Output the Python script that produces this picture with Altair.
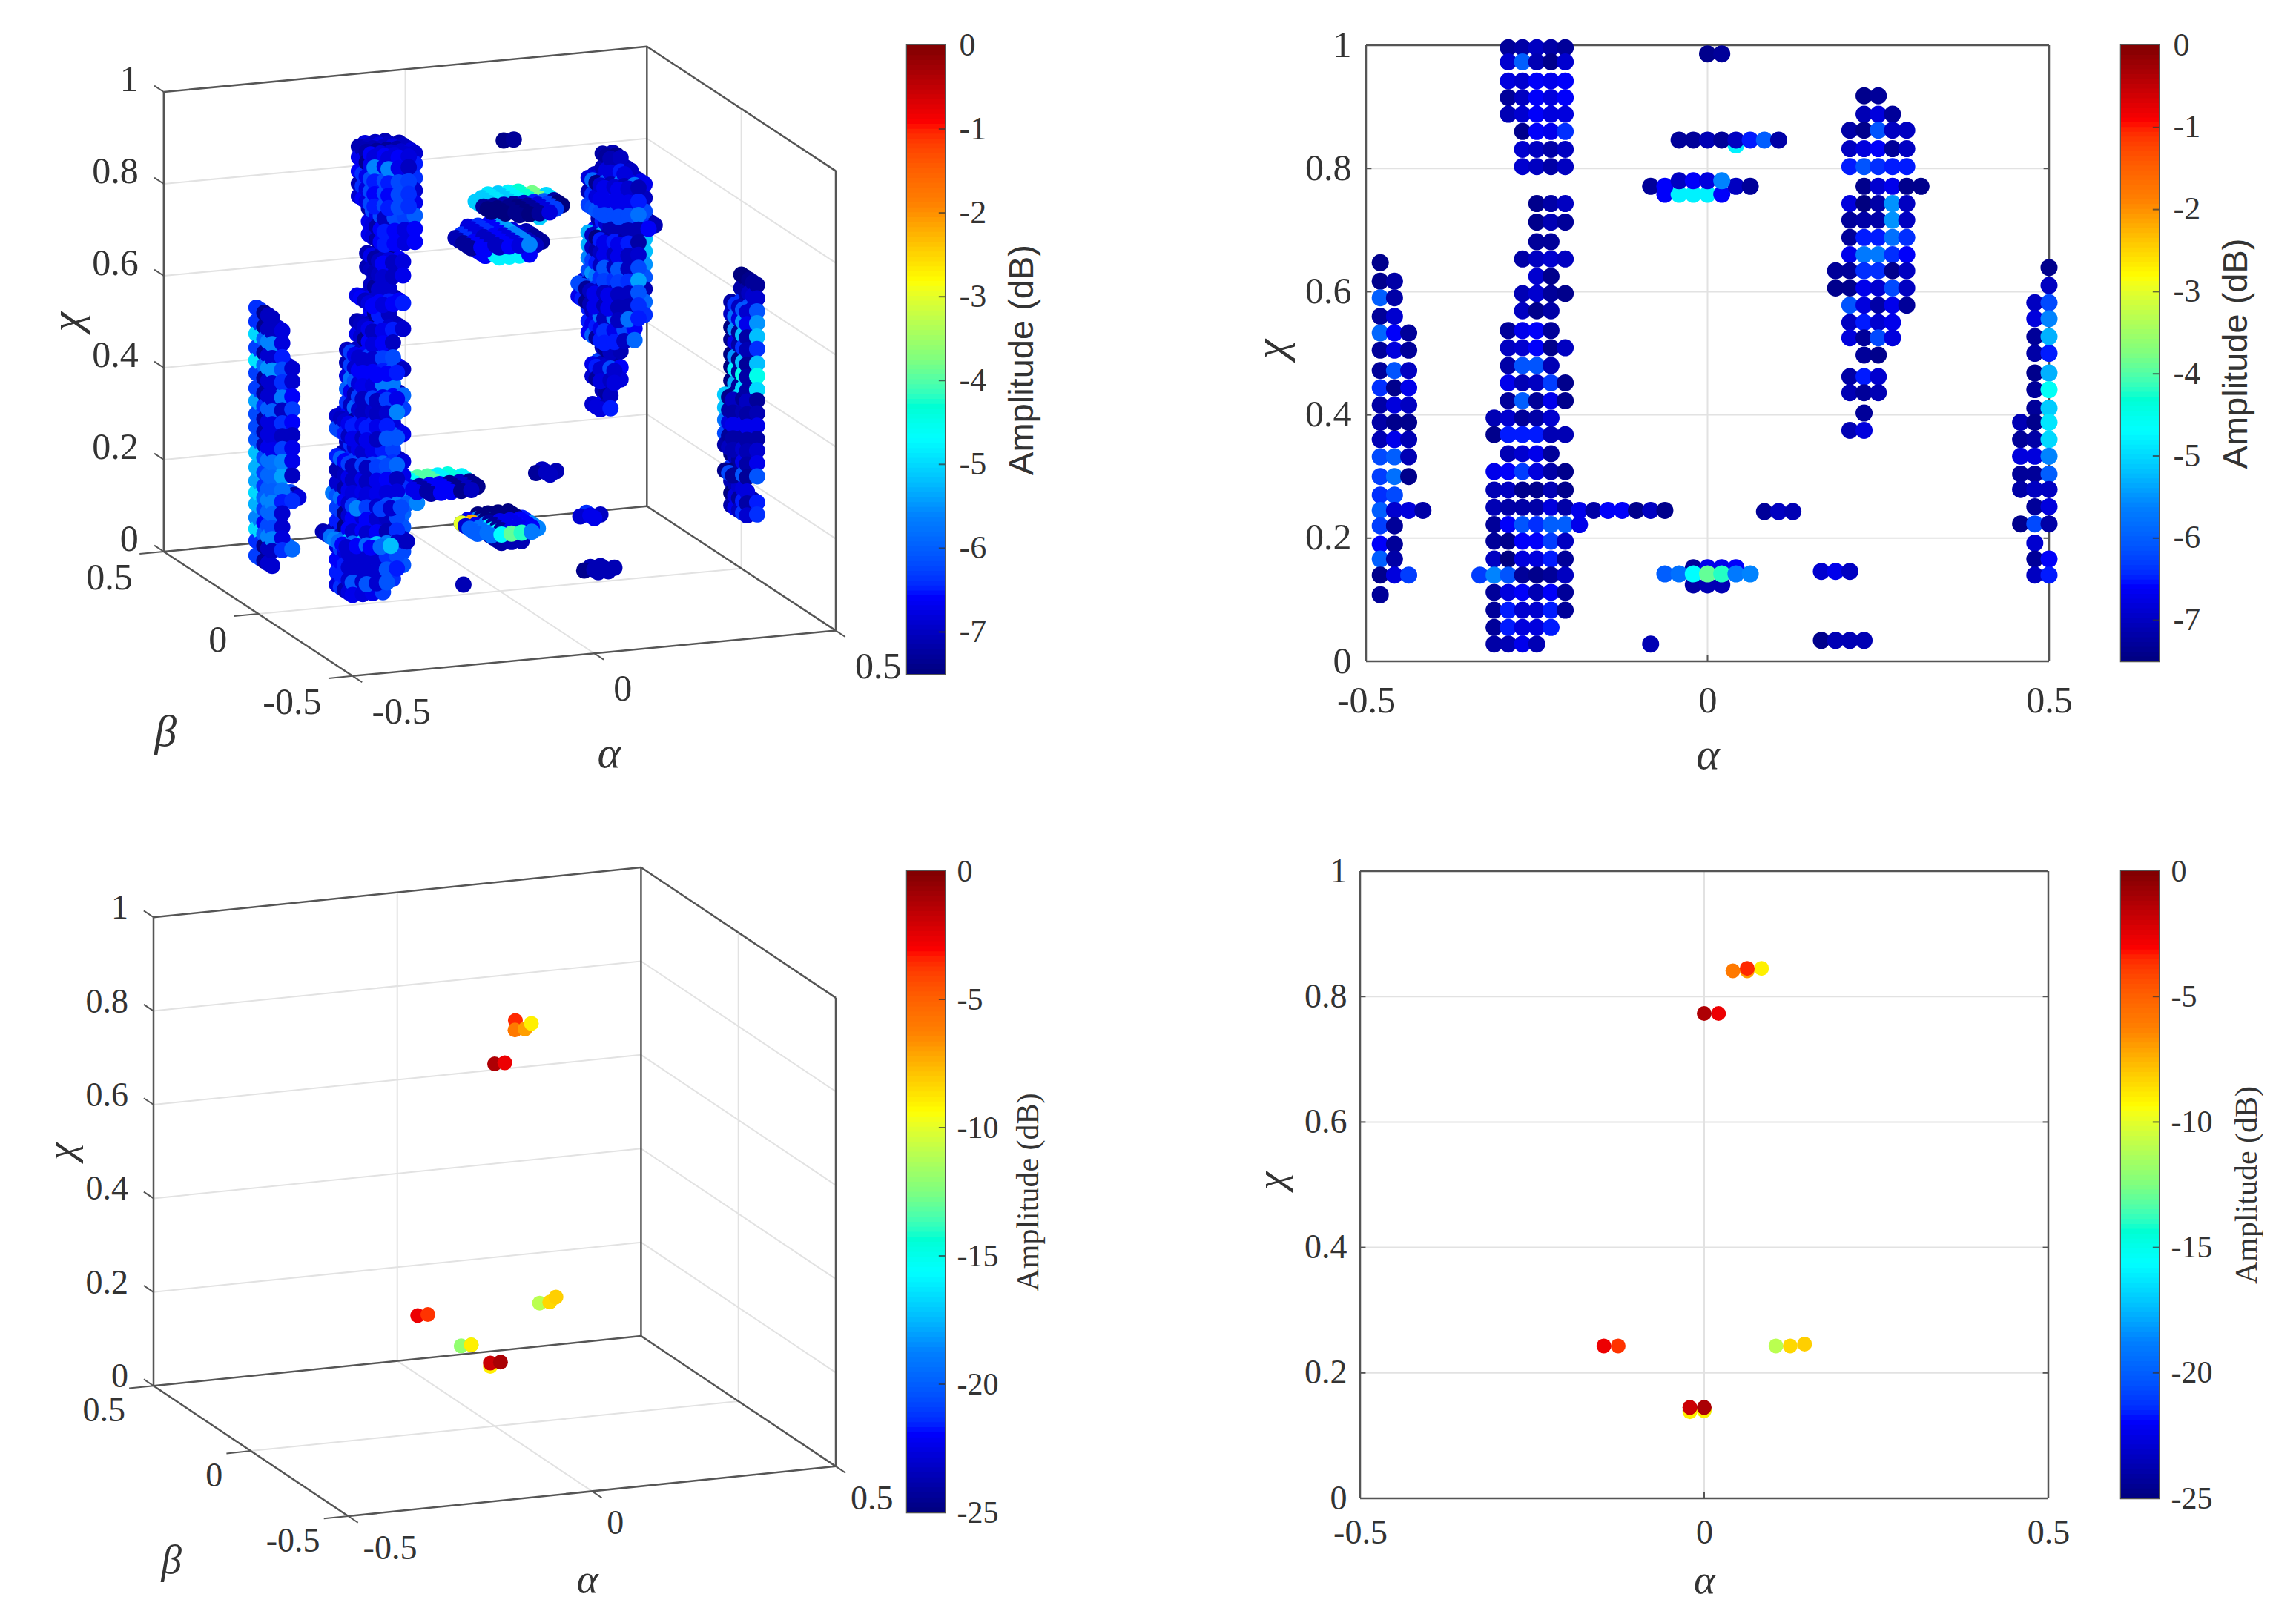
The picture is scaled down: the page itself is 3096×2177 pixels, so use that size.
import math
import numpy as np
import pandas as pd
import altair as alt

JET = ["#00007F", "#0000FF", "#007FFF", "#00FFFF", "#7FFF7F", "#FFFF00", "#FF7F00", "#FF0000", "#7F0000"]
SERIF = "Liberation Serif"
SANS = "Liberation Sans"
TXT = "#333333"
EDGE = "#555555"
GRID = "#E2E2E2"

# ---- panel (a/b) data: each row is (chi, {alpha index on the 1/48 lattice: amplitude dB})
main_upper = [
    (.996, {-14: -7.3, -13: -7.2, -12: -7.0, -11: -7.2, -10: -7.3}),
    (.973, {-14: -6.9, -13: -6.0, -12: -7.1, -11: -7.4, -10: -6.9}),
    (.942, {-14: -6.8, -13: -6.9, -12: -6.6, -11: -6.7, -10: -6.6}),
    (.915, {-14: -7.3, -13: -7.0, -12: -6.6, -11: -6.8, -10: -6.6}),
    (.888, {-14: -7.1, -13: -6.9, -12: -6.6, -11: -6.8, -10: -6.8}),
    (.860, {-13: -7.4, -12: -6.6, -11: -6.7, -10: -6.4}),
    (.831, {-13: -6.9, -12: -7.0, -11: -7.2, -10: -7.0}),
    (.803, {-13: -6.9, -12: -7.0, -11: -7.2, -10: -7.0}),
]
main_lower = [
    (.743, {-12: -7.4, -11: -7.2, -10: -7.0}),
    (.713, {-12: -7.4, -11: -7.1, -10: -7.3}),
    (.681, {-12: -7.3, -11: -7.3}),
    (.653, {-13: -7.2, -12: -7.0, -11: -6.9, -10: -7.0}),
    (.625, {-12: -6.9, -11: -7.4}),
    (.597, {-13: -7.1, -12: -6.9, -11: -7.3, -10: -7.4}),
    (.569, {-13: -7.0, -12: -7.4, -11: -7.2}),
    (.537, {-14: -7.3, -13: -6.7, -12: -6.6, -11: -7.3}),
    (.509, {-14: -7.0, -13: -6.9, -12: -6.6, -11: -7.4, -10: -7.0}),
    (.480, {-14: -7.2, -13: -6.1, -12: -6.1, -11: -7.1}),
    (.452, {-14: -6.7, -13: -7.1, -12: -7.0, -11: -6.3, -10: -7.4}),
    (.423, {-14: -7.3, -13: -6.0, -12: -7.3, -11: -6.7, -10: -7.4}),
    (.395, {-15: -7.1, -14: -6.9, -13: -7.3, -12: -7.2, -11: -6.9}),
    (.368, {-15: -7.4, -14: -6.5, -13: -6.5, -12: -6.5, -11: -7.1, -10: -7.1}),
    (.337, {-14: -7.1, -13: -6.9, -12: -6.7, -11: -7.3}),
    (.308, {-15: -6.7, -14: -6.6, -13: -6.3, -12: -6.8, -11: -7.2, -10: -7.4}),
    (.278, {-15: -7.1, -14: -7.0, -13: -7.4, -12: -7.4, -11: -7.1, -10: -7.4}),
    (.250, {-15: -7.1, -14: -7.2, -13: -7.2, -12: -7.2, -11: -6.8, -10: -7.2}),
    (.222, {-15: -7.3, -14: -6.6, -13: -6.1, -12: -6.4, -11: -6.0, -10: -6.0, -9: -6.7}),
    (.195, {-15: -7.3, -14: -7.4, -13: -6.6, -12: -6.6, -11: -6.3, -10: -7.0}),
    (.166, {-15: -7.0, -14: -7.5, -13: -6.8, -12: -6.8, -11: -6.5, -10: -7.3}),
    (.140, {-16: -6.3, -15: -5.6, -14: -6.1, -13: -7.3, -12: -7.4, -11: -7.3, -10: -7.0}),
    (.112, {-15: -7.3, -14: -6.8, -13: -6.6, -12: -7.1, -11: -6.6, -10: -7.3}),
    (.083, {-15: -7.3, -14: -6.5, -13: -6.9, -12: -6.9, -11: -6.5, -10: -7.3}),
    (.055, {-15: -7.3, -14: -6.5, -13: -6.8, -12: -6.8, -11: -6.5}),
    (.028, {-15: -7.2, -14: -7.1, -13: -6.7, -12: -7.1}),
]
left_column = [
    (.647, {-23: -7.4}),
    (.617, {-23: -7.4, -22: -7.2}),
    (.590, {-23: -6.0, -22: -7.2}),
    (.560, {-23: -7.3, -22: -6.9}),
    (.533, {-23: -5.9, -22: -6.6, -21: -7.3}),
    (.505, {-23: -7.3, -22: -6.8, -21: -7.3}),
    (.472, {-23: -7.3, -22: -6.1, -21: -7.0}),
    (.444, {-23: -6.4, -22: -7.4, -21: -6.7}),
    (.416, {-23: -7.2, -22: -6.8, -21: -7.0}),
    (.388, {-23: -7.2, -22: -7.4, -21: -7.4}),
    (.360, {-23: -7.1, -22: -6.7, -21: -7.1}),
    (.332, {-23: -6.2, -22: -6.0, -21: -7.1}),
    (.300, {-23: -6.3, -22: -5.8, -21: -7.4}),
    (.270, {-23: -6.4, -22: -6.2}),
    (.245, {-23: -6.0, -22: -6.9, -21: -6.8, -20: -7.2}),
    (.220, {-23: -6.3, -22: -7.3}),
    (.190, {-23: -6.6, -22: -7.3}),
    (.166, {-23: -6.0, -22: -7.2}),
    (.140, {-23: -7.4, -22: -6.8, -21: -6.3}),
    (.108, {-23: -7.3}),
]
right_middle = [
    (.918, {11: -7.4, 12: -7.3}),
    (.888, {11: -7.1, 12: -6.8, 13: -7.3}),
    (.862, {10: -7.2, 11: -7.4, 12: -6.1, 13: -7.0, 14: -7.0}),
    (.832, {10: -7.0, 11: -6.8, 12: -6.6, 13: -7.3, 14: -7.0}),
    (.803, {10: -6.5, 11: -6.1, 12: -6.4, 13: -6.5, 14: -6.5}),
    (.771, {11: -7.4, 12: -6.9, 13: -6.7, 14: -7.4, 15: -7.4}),
    (.743, {10: -6.8, 11: -7.5, 12: -7.2, 13: -5.5, 14: -7.0}),
    (.716, {10: -7.3, 11: -7.2, 12: -7.2, 13: -5.5, 14: -7.0}),
    (.688, {10: -7.3, 11: -6.5, 12: -6.5, 13: -5.8, 14: -6.4}),
    (.660, {10: -6.7, 11: -5.7, 12: -5.7, 13: -6.4, 14: -6.6}),
    (.634, {9: -7.3, 10: -7.3, 11: -6.4, 12: -6.4, 13: -7.4, 14: -7.0}),
    (.606, {9: -7.4, 10: -7.4, 11: -6.7, 12: -6.9, 13: -6.2, 14: -7.0}),
    (.578, {10: -6.1, 11: -6.8, 12: -7.2, 13: -6.7, 14: -7.3}),
    (.550, {10: -7.0, 11: -6.5, 12: -6.9, 13: -6.7}),
    (.525, {10: -6.8, 11: -7.3, 12: -6.2, 13: -6.8}),
    (.497, {11: -7.3, 12: -7.4}),
    (.462, {10: -7.2, 11: -6.5, 12: -6.9}),
    (.436, {10: -7.1, 11: -7.3, 12: -7.1}),
    (.403, {11: -7.3}),
    (.375, {10: -7.1, 11: -6.8}),
]
right_column = [
    (.639, {24: -7.4}),
    (.610, {24: -7.0}),
    (.582, {23: -7.0, 24: -6.2}),
    (.556, {23: -6.8, 24: -5.6}),
    (.527, {23: -7.3, 24: -5.3}),
    (.500, {23: -7.2, 24: -6.5}),
    (.468, {23: -7.4, 24: -5.3}),
    (.441, {23: -7.3, 24: -4.6}),
    (.411, {23: -7.3, 24: -5.1}),
    (.388, {22: -7.1, 23: -7.4, 24: -4.9}),
    (.360, {22: -7.3, 23: -7.2, 24: -5.0}),
    (.333, {22: -6.8, 23: -6.8, 24: -5.6}),
    (.304, {22: -7.3, 23: -7.3, 24: -6.0}),
    (.279, {22: -7.2, 23: -7.0, 24: -7.0}),
    (.251, {23: -7.3, 24: -6.8}),
    (.223, {22: -7.4, 23: -6.2, 24: -7.2}),
    (.192, {23: -6.9}),
    (.166, {23: -7.3, 24: -6.6}),
    (.140, {23: -7.0, 24: -6.5}),
]
disc_846 = [
    (.838, {2: -4.8}),
    (.846, {-2: -7.3, -1: -7.3, 0: -7.1, 1: -7.3, 2: -7.0, 3: -6.5, 4: -6.0, 5: -7.2}),
]
disc_771 = [
    (.758, {-3: -6.6, -2: -4.8, -1: -4.8, 0: -4.8, 1: -6.6}),
    (.771, {-4: -7.3, -3: -6.6, 2: -7.0, 3: -7.3}),
    (.780, {-2: -7.0, -1: -6.6, 0: -6.8, 1: -5.6}),
]
disc_245 = [
    (.245, {-9: -6.7, -8: -7.2, -7: -6.6, -6: -6.6, -5: -7.4, -4: -7.0, -3: -7.4}),
]
disc_142 = [
    (.124, {-1: -7.2, 0: -7.1, 1: -7.1}),
    (.152, {-1: -7.3, 0: -6.7, 1: -6.7, 2: -6.6}),
    (.142, {-3: -6.0, -2: -5.8, -1: -4.7, 0: -3.9, 1: -4.2, 2: -5.7, 3: -5.6}),
]
small_top = [(.986, {0: -7.4, 1: -7.3})]
small_a = [(.243, {4: -7.3, 5: -7.0, 6: -7.1})]
small_b = [(.146, {8: -6.9, 9: -6.7, 10: -7.0})]
small_c = [(.034, {8: -7.4, 9: -7.1, 10: -7.1, 11: -7.1})]
small_d = [(.028, {-4: -7.1})]

# 3D view: each cluster is a column or disc around a beta centre (in 1/48 units).
# Fields: rows, beta centre, fixed (alpha centre, radius) or None for per-row, extra radius,
# dB change behind the centre, dB change in front, mix values along the row.
clusters = [
    (main_upper, -2.0, None, .8, .2, .4, True),
    (main_lower, 1.0, None, .8, .3, .4, True),
    (left_column, 1.0, (-22.0, 2.6), 0, 1.0, .4, False),
    (right_middle, 1.0, None, .6, .2, .3, True),
    (right_column, -2.0, (23.5, 2.4), 0, -.2, .1, True),
    (disc_846, -1.0, (1.5, 4.6), 0, 2.2, -.3, False),
    (disc_771, -1.0, (-.5, 4.6), 0, .2, 0, False),
    (disc_245, 0.0, (-6.0, 3.8), 0, 2.6, 0, False),
    (disc_142, 0.0, (0.0, 3.8), 0, -.9, 0, False),
    (small_top, -1.0, None, -.6, 0, 0, False),
    (small_a, 1.0, None, -.4, 0, 0, False),
    (small_b, 0.0, None, -.2, .3, 0, False),
    (small_c, -1.0, None, -.6, 0, 0, False),
    (small_d, -1.0, None, -.6, 0, 0, False),
]
# bright back-left spot on the lowest disc, seen only in the 3D view: (alpha index, beta index, chi, amp)
spots_3d = [(-2, 2, .142, -2.2), (-3, 2, .142, -3.0)]

# ---- panel (c/d) data
sparse_alpha = [.0625, .0417, .0625, .0833, 0.0, .0208, -.1458, -.125, .1042, .125, .1458, -.0208, 0.0, .0, -.0208, -.0208, 0.0]
sparse_beta = [.05, 0, 0, .02, 0, 0, .03, .03, .03, .03, .05, .12, .12, .12, -.03, -.03, -.03]
sparse_chi = [.845, .841, .841, .845, .773, .773, .243, .243, .243, .243, .246, .14, .14, .14, .138, .145, .145]
sparse_amp = [-3.5, -6.0, -7.0, -9.0, -1.2, -2.7, -2.7, -3.7, -11.0, -8.4, -8.2, -12.0, -12.0, -9.0, -9.0, -1.9, -1.1]

bar1_ticks = [0, -1, -2, -3, -4, -5, -6, -7]
bar2_ticks = [0, -5, -10, -15, -20, -25]
chi_ticks = [0, .2, .4, .6, .8, 1]


def dense_points():
    rows = []
    for c in clusters:
        for chi, cells in c[0]:
            for k, amp in cells.items():
                rows.append({"alpha": k / 48, "chi": chi, "amp": amp})
    return pd.DataFrame(rows)


def dense_points_3d():
    rows = []
    for group, jc, fixed, extra, back, front, mix in clusters:
        for chi, cells in group:
            keys = sorted(cells)
            if fixed:
                kc, R = fixed
            else:
                kc, R = (keys[0] + keys[-1]) / 2, (keys[-1] - keys[0]) / 2 + .6 + extra
            R = max(R, .1)
            for k in keys:
                for j in range(math.floor(jc - R), math.ceil(jc + R) + 1):
                    if (k - kc) ** 2 + (j - jc) ** 2 > R * R + .01:
                        continue
                    src = cells[keys[(keys.index(k) + j) % len(keys)]] if mix else cells[k]
                    shift = back if j > jc else (front if j < jc else 0)
                    rows.append({"alpha": k / 48, "beta": j / 48, "chi": chi,
                                 "amp": float(np.clip(src + shift, -7.5, 0))})
    for k, j, chi, amp in spots_3d:
        rows.append({"alpha": k / 48, "beta": j / 48, "chi": chi, "amp": amp})
    return pd.DataFrame(rows).sort_values(["beta"], ascending=[False], kind="stable")


def color_enc(lo):
    dom = [float(v) for v in np.linspace(lo, 0, 9)]
    return alt.Color("amp:Q", scale=alt.Scale(domain=dom, range=JET), legend=None)


def panel_3d(points, lo, coef, xdom, ydom, w, h, fs, size, offs):
    ox, oy, ka, kb, kc, kav, kbv = coef

    def pu(a, b):
        return ox + (a + .5) * ka + (.5 - b) * kb

    def pv(a, b, c):
        return oy - c * kc - (a + .5) * kav + (.5 - b) * kbv

    sx = alt.Scale(domain=xdom, nice=False, zero=False)
    sy = alt.Scale(domain=ydom, nice=False, zero=False)
    X = lambda f: alt.X(f, type="quantitative", scale=sx, axis=None)
    Y = lambda f: alt.Y(f, type="quantitative", scale=sy, axis=None)

    def segs(lst):
        return pd.DataFrame([{"x": pu(p[0], p[1]), "y": pv(*p), "x2": pu(q[0], q[1]), "y2": pv(*q)} for p, q in lst])

    grid_l = []
    for c in chi_ticks[1:-1]:
        grid_l.append(((-.5, .5, c), (.5, .5, c)))
        grid_l.append(((.5, .5, c), (.5, -.5, c)))
    grid_l += [((0, .5, 0), (0, .5, 1)), ((.5, 0, 0), (.5, 0, 1)),
               ((0, .5, 0), (0, -.5, 0)), ((-.5, 0, 0), (.5, 0, 0))]
    edges = [((-.5, .5, 0), (-.5, .5, 1)), ((-.5, .5, 1), (.5, .5, 1)), ((.5, .5, 0), (.5, .5, 1)),
             ((.5, .5, 1), (.5, -.5, 1)), ((.5, -.5, 0), (.5, -.5, 1)), ((-.5, .5, 0), (.5, .5, 0)),
             ((-.5, .5, 0), (-.5, -.5, 0)), ((-.5, -.5, 0), (.5, -.5, 0)), ((.5, .5, 0), (.5, -.5, 0))]
    ticks = [((-.5, .5, c), (-.5, .55, c)) for c in chi_ticks]
    ticks += [((-.5, b, 0), (-.55, b, 0)) for b in [.5, 0, -.5]]
    ticks += [((a, -.5, 0), (a, -.55, 0)) for a in [-.5, 0, .5]]

    def rule(lst, color, width):
        return alt.Chart(segs(lst)).mark_rule(color=color, strokeWidth=width).encode(
            x=X("x"), y=Y("y"), x2="x2", y2="y2")

    def text(labels, anchors, align, dx, dy, font=SERIF, size_=fs, style="normal", angle=0):
        df = pd.DataFrame({"t": labels, "x": [pu(a[0], a[1]) for a in anchors], "y": [pv(*a) for a in anchors]})
        return alt.Chart(df).mark_text(font=font, fontSize=size_, fontStyle=style, align=align, baseline="middle",
                                       dx=dx, dy=dy, color=TXT, angle=angle).encode(
            x=X("x"), y=Y("y"), text="t:N")

    pts = points.copy()
    pts["u"] = pu(pts["alpha"], pts["beta"])
    pts["v"] = pv(pts["alpha"], pts["beta"], pts["chi"])
    pts["ord"] = np.arange(len(pts))
    dots = alt.Chart(pts).mark_circle(size=size, opacity=1, stroke=None).encode(
        x=X("u"), y=Y("v"), color=color_enc(lo), order=alt.Order("ord:Q"))

    o = offs
    gfs = fs * 1.2
    layers = [
        rule(grid_l, GRID, 2),
        rule(edges, EDGE, 2.5),
        rule(ticks, EDGE, 2),
        dots,
        text([("%g" % c) for c in chi_ticks], [(-.5, .5, c) for c in chi_ticks], "right", o["z"][0], o["z"][1]),
        text(["0.5", "0", "-0.5"], [(-.5, b, 0) for b in [.5, 0, -.5]], "right", o["b"][0], o["b"][1]),
        text(["-0.5", "0", "0.5"], [(a, -.5, 0) for a in [-.5, 0, .5]], "left", o["a"][0], o["a"][1]),
        text(["\u03b1"], [(0, -.5, 0)], "center", o["at"][0], o["at"][1], style="italic", size_=gfs),
        text(["\u03b2"], [(-.5, 0, 0)], "center", o["bt"][0], o["bt"][1], style="italic", size_=gfs),
        # the offsets of a rotated text turn with it: dy is the screen's horizontal here
        text(["\u03c7"], [(-.5, .5, .5)], "center", o["zt"][0], o["zt"][1], style="italic", angle=270, size_=gfs),
    ]
    return alt.layer(*layers).properties(width=w, height=h, view=alt.ViewBackground(stroke=None))


def panel_2d(points, lo, cell_w, shift, h, fs, size, xt, yt, lp_x, lp_y):
    sx = alt.Scale(domain=[-.5, .5], nice=False, zero=False, range=[shift, cell_w])
    sy = alt.Scale(domain=[0, 1], nice=False, zero=False)
    mid = shift + (cell_w - shift) / 2
    gfs = fs * 1.2
    x_axis = alt.Axis(values=[-.5, 0, .5], grid=False, domain=False, ticks=False, labelFont=SERIF, labelFontSize=fs,
                      labelColor=TXT, labelPadding=lp_x, labelFlush=False, labelOverlap=False,
                      labelExpr="datum.value==0?'0':(datum.value>0?'0.5':'-0.5')",
                      title="\u03b1", titleFont=SERIF, titleFontSize=gfs, titleFontStyle="italic", titleFontWeight="normal",
                      titleColor=TXT, titleX=mid, titleY=xt, titleBaseline="middle", titleAlign="center")
    y_axis = alt.Axis(values=chi_ticks, grid=False, domain=False, ticks=False, labelFont=SERIF, labelFontSize=fs,
                      labelColor=TXT, labelPadding=lp_y, labelFlush=False, labelOverlap=False, offset=-shift,
                      labelExpr="format(datum.value,'.1f')=='0.0'?'0':(datum.value==1?'1':format(datum.value,'.1f'))",
                      title="\u03c7", titleFont=SERIF, titleFontSize=gfs, titleFontStyle="italic", titleFontWeight="normal",
                      titleColor=TXT, titleX=yt, titleY=h / 2 - 6, titleBaseline="middle", titleAlign="center", titleAngle=270)
    ex = alt.X("x:Q", scale=sx, axis=x_axis)
    ey = alt.Y("y:Q", scale=sy, axis=y_axis)

    def rules(df, color, width):
        enc = {"x": ex, "y": ey}
        if "x2" in df:
            enc["x2"] = "x2"
        if "y2" in df:
            enc["y2"] = "y2"
        return alt.Chart(df).mark_rule(color=color, strokeWidth=width).encode(**enc)

    inner = chi_ticks[1:-1]
    hgrid = rules(pd.DataFrame({"y": inner, "x": -.5, "x2": .5}), GRID, 2)
    vgrid = rules(pd.DataFrame({"x": [0], "y": [0], "y2": [1]}), GRID, 2)
    tick_l = rules(pd.DataFrame({"y": inner, "x": -.5, "x2": -.492}), EDGE, 2)
    tick_r = rules(pd.DataFrame({"y": inner, "x": .492, "x2": .5}), EDGE, 2)
    tick_b = rules(pd.DataFrame({"x": [0], "y": [0], "y2": [.01]}), EDGE, 2)
    fr_h = rules(pd.DataFrame({"y": [0, 1], "x": -.5, "x2": .5}), EDGE, 2.5)
    fr_v = rules(pd.DataFrame({"x": [-.5, .5], "y": 0, "y2": 1}), EDGE, 2.5)
    dots = alt.Chart(points).mark_circle(size=size, opacity=1, stroke=None).encode(
        x=alt.X("alpha:Q", scale=sx, axis=x_axis),
        y=alt.Y("chi:Q", scale=sy, axis=y_axis),
        color=color_enc(lo))
    return alt.layer(hgrid, vgrid, fr_h, fr_v, tick_l, tick_r, tick_b, dots).properties(
        width=cell_w, height=h, view=alt.ViewBackground(stroke=None))


def colorbar(lo, ticks, w, h, fs, lab_pad, title_x, title_font, title_size):
    edges = np.linspace(lo, 0, 129)
    step = edges[1] - edges[0]
    cells = pd.DataFrame({"y": edges[:-1], "y2": np.minimum(edges[1:] + step * .7, 0),
                          "amp": (edges[:-1] + edges[1:]) / 2})
    sy = alt.Scale(domain=[lo, 0], nice=False, zero=False)
    sx = alt.Scale(domain=[0, 1], nice=False, zero=False)
    axis = alt.Axis(orient="right", values=ticks, grid=False, domain=False, ticks=False, labelFont=SERIF,
                    labelFontSize=fs, labelColor=TXT, labelPadding=lab_pad, labelFlush=False, labelOverlap=False,
                    labelExpr="datum.value==0?'0':'-'+abs(datum.value)",
                    title="Amplitude (dB)", titleFont=title_font, titleFontSize=title_size, titleFontWeight="normal",
                    titleColor=TXT, titleX=title_x, titleY=h / 2, titleAngle=270, titleAlign="center", titleBaseline="middle")
    bar = alt.Chart(cells).mark_rect(stroke=None).encode(
        x=alt.value(0), x2=alt.value(w),
        y=alt.Y("y:Q", scale=sy, axis=axis), y2="y2:Q", color=color_enc(lo))
    tk = alt.Chart(pd.DataFrame({"y": [t for t in ticks if lo < t < 0], "x": .84, "x2": 1.0})).mark_rule(
        color="#333333", strokeWidth=2, opacity=.7).encode(
        x=alt.X("x:Q", scale=sx, axis=None), x2="x2", y=alt.Y("y:Q", scale=sy, axis=axis))
    return alt.layer(bar, tk).properties(width=w, height=h, view=alt.ViewBackground(stroke=EDGE, strokeWidth=2.5))


def spacer(w):
    return alt.Chart(pd.DataFrame({"x": [0]})).mark_point(opacity=0).encode(
        x=alt.X("x:Q", axis=None), y=alt.Y("x:Q", axis=None)).properties(
        width=w, height=10, view=alt.ViewBackground(stroke=None))


dense2d = dense_points()
dense3d = dense_points_3d()
sparse = pd.DataFrame({"alpha": sparse_alpha, "beta": sparse_beta, "chi": sparse_chi, "amp": sparse_amp})

p1 = panel_3d(dense3d, -7.5, (112, 376.3, 330, 129, 314, 31, 85), [105, 571], [462.4, 30.4], 920, 853, 50, 480,
              {"z": (-34, -16), "b": (-42, 36), "a": (26, 49), "at": (20, 136), "bt": (-125, 160), "zt": (0, -130)})
b1 = colorbar(-7.5, bar1_ticks, 51, 848, 44, 19, 104, SANS, 47)
p2 = panel_2d(dense2d, -7.5, 929, 8, 831, 50, 529, 126, -128, 28, 20)
b2 = colorbar(-7.5, bar1_ticks, 51, 831, 44, 19, 104, SANS, 47)

p3 = panel_3d(sparse, -25, (105, 946, 333, 133, 320, 34, 89), [105, 571], [1035, 594.5], 920, 870, 46, 400,
              {"z": (-34, -12), "b": (-38, 34), "a": (20, 44), "at": (-6, 120), "bt": (-107, 148), "zt": (0, -124)})
b3 = colorbar(-25, bar2_ticks, 51, 865, 42, 16, 112, SERIF, 42)
p4 = panel_2d(sparse.sort_values("amp", ascending=True), -25, 928, 0, 846, 46, 400, 110, -120, 24, 18)
b4 = colorbar(-25, bar2_ticks, 51, 846, 42, 16, 118, SERIF, 42)

cells = [p1, spacer(96), b1, spacer(560), p2, spacer(96), b2,
         p3, spacer(96), b3, spacer(560), p4, spacer(97), b4]
chart = alt.concat(*cells, columns=7, spacing={"row": 261, "column": 0}, bounds="flush", align="each").resolve_scale(
    color="independent").properties(padding={"left": 48, "top": 28, "right": 0, "bottom": 0}, background="white")

chart.save("out.html", embed_options={"renderer": "svg", "actions": False})
